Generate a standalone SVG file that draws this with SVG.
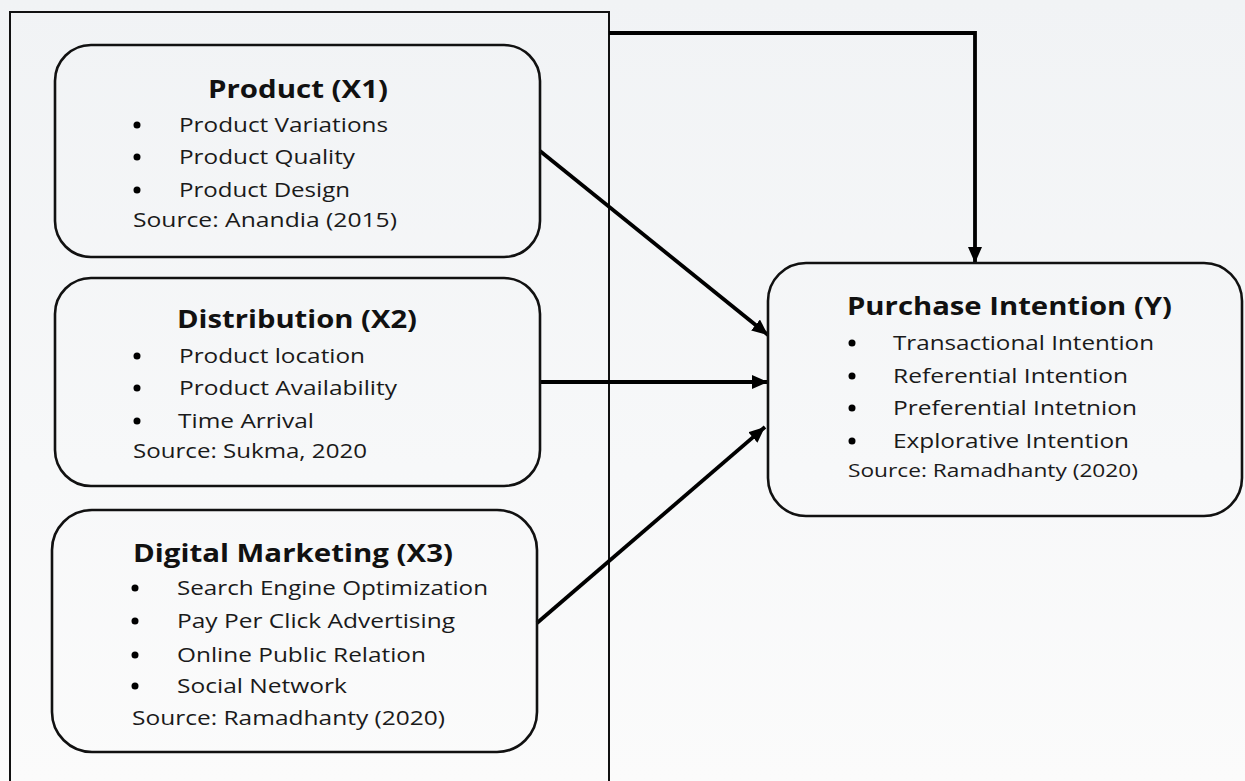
<svg xmlns="http://www.w3.org/2000/svg" width="1245" height="781" viewBox="0 0 1245 781">
  <defs>
    <linearGradient id="bg" x1="0" y1="0" x2="0" y2="1">
      <stop offset="0" stop-color="#f1f3f5"/>
      <stop offset="0.6" stop-color="#f7f8f9"/>
      <stop offset="1" stop-color="#fbfbfb"/>
    </linearGradient>
    <marker id="arrow" markerUnits="userSpaceOnUse" markerWidth="16" markerHeight="14" viewBox="0 0 16 14" refX="16" refY="7" orient="auto">
      <path d="M0,0 L16,7 L0,14 Z" fill="#000"/>
    </marker>
  </defs>
  <style>
    .frame { fill: none; stroke: #111; stroke-width: 2; }
    .box { fill: none; stroke: #111; stroke-width: 2.6; }
    .link { fill: none; stroke: #000; stroke-width: 3.8; }
    .title { font-family: "Open Sans", "Noto Sans", sans-serif; font-weight: bold; font-size: 25px; fill: #111; }
    .item { font-family: "Open Sans", "Noto Sans", sans-serif; font-size: 20px; fill: #1a1a1a; }
    .src { font-family: "Open Sans", "Noto Sans", sans-serif; font-size: 20px; fill: #1a1a1a; }
    .src-small { font-family: "Open Sans", "Noto Sans", sans-serif; font-size: 18px; fill: #1a1a1a; }
    .dot { fill: #000; }
  </style>

  <rect x="0" y="0" width="1245" height="781" fill="url(#bg)"/>

  <!-- frame around the independent variables -->
  <path class="frame" d="M10,790 L10,12 L609,12 L609,790"/>

  <!-- connectors -->
  <g id="connectors">
    <path class="link" d="M609,33 L975,33 L975,263" marker-end="url(#arrow)"/>
    <path class="link" d="M540,151 L768,335" marker-end="url(#arrow)"/>
    <path class="link" d="M540,382 L768,382" marker-end="url(#arrow)"/>
    <path class="link" d="M537,623 L765,427" marker-end="url(#arrow)"/>
  </g>

  <!-- Product (X1) -->
  <g id="product">
    <rect class="box" x="55" y="45" width="485" height="212" rx="36" ry="36"/>
    <text class="title" x="208" y="98" textLength="180" lengthAdjust="spacingAndGlyphs">Product (X1)</text>
    <circle class="dot" cx="137" cy="125" r="3.5"/>
    <circle class="dot" cx="137" cy="157" r="3.5"/>
    <circle class="dot" cx="137" cy="190" r="3.5"/>
    <text class="item" x="179" y="132" textLength="209" lengthAdjust="spacingAndGlyphs">Product Variations</text>
    <text class="item" x="179" y="164" textLength="176" lengthAdjust="spacingAndGlyphs">Product Quality</text>
    <text class="item" x="179" y="197" textLength="171" lengthAdjust="spacingAndGlyphs">Product Design</text>
    <text class="src" x="133" y="227" textLength="264" lengthAdjust="spacingAndGlyphs">Source: Anandia (2015)</text>
  </g>

  <!-- Distribution (X2) -->
  <g id="distribution">
    <rect class="box" x="55" y="278" width="485" height="208" rx="36" ry="36"/>
    <text class="title" x="177" y="328" textLength="240" lengthAdjust="spacingAndGlyphs">Distribution (X2)</text>
    <circle class="dot" cx="137" cy="356" r="3.5"/>
    <circle class="dot" cx="137" cy="388" r="3.5"/>
    <circle class="dot" cx="137" cy="421" r="3.5"/>
    <text class="item" x="179" y="363" textLength="186" lengthAdjust="spacingAndGlyphs">Product location</text>
    <text class="item" x="179" y="395" textLength="218" lengthAdjust="spacingAndGlyphs">Product Availability</text>
    <text class="item" x="178" y="428" textLength="136" lengthAdjust="spacingAndGlyphs">Time Arrival</text>
    <text class="src" x="133" y="458" textLength="234" lengthAdjust="spacingAndGlyphs">Source: Sukma, 2020</text>
  </g>

  <!-- Digital Marketing (X3) -->
  <g id="digital-marketing">
    <rect class="box" x="52" y="510" width="485" height="242" rx="40" ry="40"/>
    <text class="title" x="133" y="562" textLength="320" lengthAdjust="spacingAndGlyphs">Digital Marketing (X3)</text>
    <circle class="dot" cx="135" cy="588" r="3.5"/>
    <circle class="dot" cx="135" cy="621" r="3.5"/>
    <circle class="dot" cx="135" cy="655" r="3.5"/>
    <circle class="dot" cx="135" cy="686" r="3.5"/>
    <text class="item" x="177" y="595" textLength="311" lengthAdjust="spacingAndGlyphs">Search Engine Optimization</text>
    <text class="item" x="177" y="628" textLength="278" lengthAdjust="spacingAndGlyphs">Pay Per Click Advertising</text>
    <text class="item" x="177" y="662" textLength="249" lengthAdjust="spacingAndGlyphs">Online Public Relation</text>
    <text class="item" x="177" y="693" textLength="170" lengthAdjust="spacingAndGlyphs">Social Network</text>
    <text class="src" x="132" y="725" textLength="313" lengthAdjust="spacingAndGlyphs">Source: Ramadhanty (2020)</text>
  </g>

  <!-- Purchase Intention (Y) -->
  <g id="purchase-intention">
    <rect class="box" x="768" y="263" width="474" height="253" rx="38" ry="38"/>
    <text class="title" x="847" y="315" textLength="325" lengthAdjust="spacingAndGlyphs">Purchase Intention (Y)</text>
    <circle class="dot" cx="852" cy="343" r="3.5"/>
    <circle class="dot" cx="852" cy="376" r="3.5"/>
    <circle class="dot" cx="852" cy="408" r="3.5"/>
    <circle class="dot" cx="852" cy="441" r="3.5"/>
    <text class="item" x="893" y="350" textLength="261" lengthAdjust="spacingAndGlyphs">Transactional Intention</text>
    <text class="item" x="893" y="383" textLength="235" lengthAdjust="spacingAndGlyphs">Referential Intention</text>
    <text class="item" x="893" y="415" textLength="244" lengthAdjust="spacingAndGlyphs">Preferential Intetnion</text>
    <text class="item" x="893" y="448" textLength="236" lengthAdjust="spacingAndGlyphs">Explorative Intention</text>
    <text class="src-small" x="848" y="477" textLength="290" lengthAdjust="spacingAndGlyphs">Source: Ramadhanty (2020)</text>
  </g>
</svg>
